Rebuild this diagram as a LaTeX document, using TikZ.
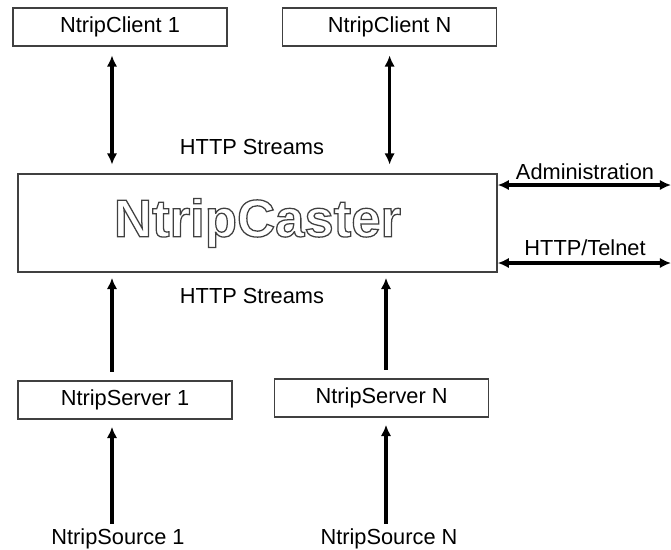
\documentclass[tikz,border=0pt]{standalone}
\usepackage{fontspec}
\setmainfont{Liberation Sans}
\usetikzlibrary{arrows.meta}
\definecolor{boxgray}{RGB}{64,64,64}
\newcommand{\hollowtext}[1]{\special{pdf:literal direct 1 Tr}#1\special{pdf:literal direct 0 Tr}}

\begin{document}
\begin{tikzpicture}
		[<->,>={Latex[length=8pt,width=7.5pt]},
		box/.style={rectangle,draw=boxgray,line width=0.9pt,minimum width=5.35cm,minimum height=0.95cm,inner sep=0pt,font=\fontsize{15.5}{18}\selectfont},
		lbl/.style={font=\fontsize{15.5}{18}\selectfont},
		flow/.style={draw=black,line width=2.4pt}]
		\useasboundingbox (0, 0) rectangle (16.775, -13.725);
		\node[box] (c1) at (3.0, -0.675) {NtripClient 1};
		\node[box] (cN) at (9.74, -0.675) {NtripClient N};
		\node[box,text=boxgray,minimum width=11.975cm,minimum height=2.45cm] (caster) at (6.44, -5.575) {\fontsize{37.5}{40}\selectfont\bfseries\hollowtext{NtripCaster}};
		\node[box] (s1) at (3.125, -10.0) {NtripServer 1};
		\node[box] (sN) at (9.54, -9.95) {NtripServer N};
		\node[lbl] (src1) at (2.95, -13.475) {NtripSource 1};
		\node[lbl] (srcN) at (9.725, -13.475) {NtripSource N};
		\node[lbl] (up) at (6.3, -3.675) {HTTP Streams};
		\node[lbl] (down) at (6.3, -7.4) {HTTP Streams};
		\node[lbl] (admin) at (14.625, -4.3) {Administration};
		\node[lbl] (telnet) at (14.625, -6.2) {HTTP/Telnet};
		\coordinate (adminend) at (16.775, -4.625);
		\coordinate (telnetend) at (16.775, -6.575);
		
		\draw[flow] ([xshift=-0.2cm,yshift=-0.22cm]c1.south) -- ([xshift=-0.2cm,yshift=0.22cm]c1.south |- caster.north);
		\draw[flow] ([yshift=-0.22cm]cN.south) -- ([yshift=0.22cm]cN.south |- caster.north);
		\draw[flow,->] ([xshift=-0.325cm,yshift=0.22cm]s1.north) -- ([xshift=-0.325cm,yshift=-0.13cm]s1.north |- caster.south);
		\draw[flow,->] ([xshift=0.11cm,yshift=0.22cm]sN.north) -- ([xshift=0.11cm,yshift=-0.13cm]sN.north |- caster.south);
		\draw[flow,->] ([xshift=-0.325cm]s1.south |- src1.north) -- ([xshift=-0.325cm,yshift=-0.18cm]s1.south);
		\draw[flow,->] ([xshift=0.11cm]sN.south |- srcN.north) -- ([xshift=0.11cm,yshift=-0.18cm]sN.south);
		\draw[flow] (caster.east |- adminend) -- (adminend);
		\draw[flow] (caster.east |- telnetend) -- (telnetend);
		
	\end{tikzpicture}
\end{document}
